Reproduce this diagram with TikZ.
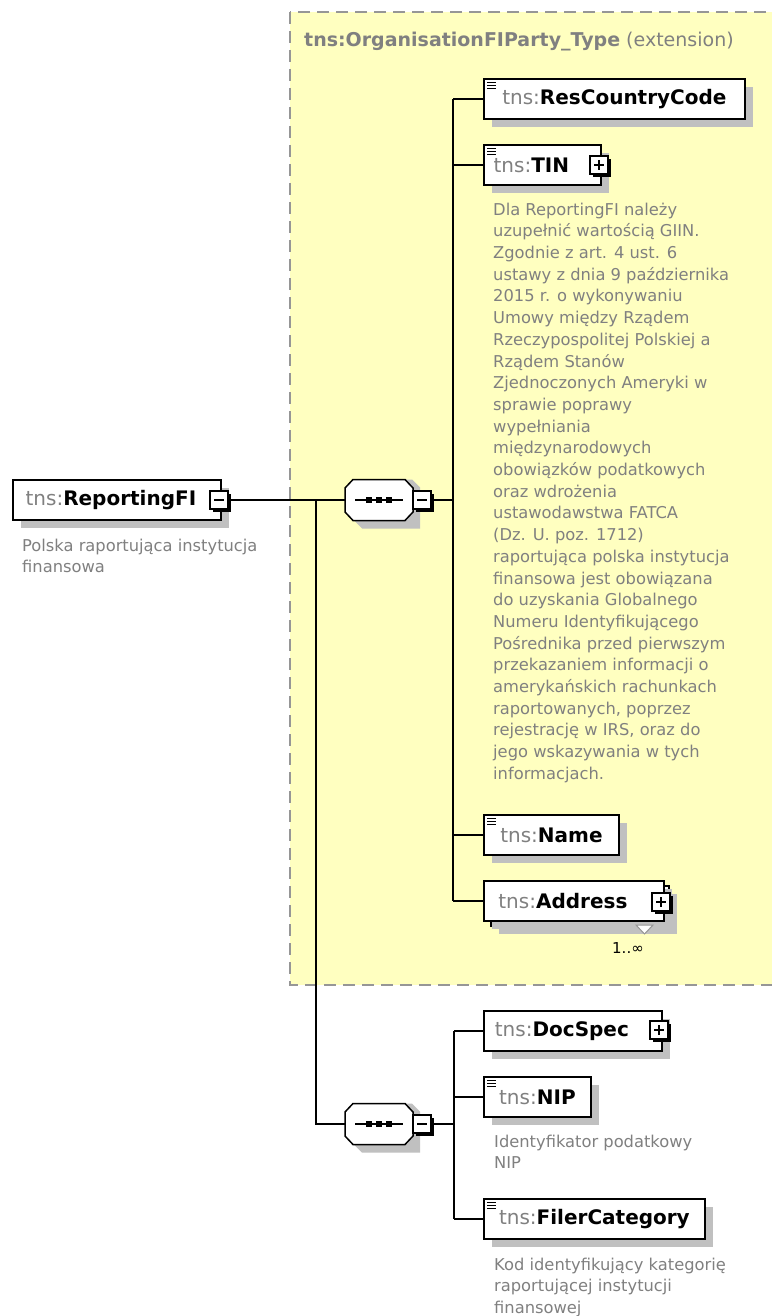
\documentclass[tikz,border=0pt]{standalone}
\usepackage{fontspec}
\setmainfont{DejaVu Sans}
\usetikzlibrary{shadows}
\definecolor{bgyellow}{RGB}{255,255,192}
\definecolor{tgray}{RGB}{128,128,128}
\definecolor{docgray}{RGB}{128,128,128}
\definecolor{shgray}{RGB}{192,192,192}
\definecolor{dashgray}{RGB}{150,150,150}
\newcommand\elname[1]{{\mdseries\color{tgray}tns:}{\bfseries #1}}
\tikzset{
  elem/.style={draw=black, fill=white, line width=1.8pt, anchor=north west,
    minimum height=40pt, minimum width=#1, inner sep=0pt,
    font=\fontsize{20}{24}\selectfont,
    drop shadow={shadow xshift=8pt, shadow yshift=-8pt, fill=shgray, opacity=1}},
  docnote/.style={anchor=north west, inner sep=0pt, align=left, text=docgray,
    font=\fontsize{16.3}{21.7}\selectfont},
  seqbox/.style={rectangle, draw=none, minimum width=68pt, minimum height=41pt, inner sep=0pt},
  conn/.style={line width=1.8pt, black},
  pics/pmbox/.style={code={
    \fill[black] (3,3) rectangle (21,21);
    \draw[fill=white, line width=1.2pt] (0,0) rectangle (18,18);
    \draw[line width=1.5pt] (4,9) -- (14,9);
    \ifnum#1=1 \draw[line width=1.5pt] (9,4) -- (9,14);\fi
    \coordinate (-in) at (0,9);
    \coordinate (-out) at (21,9);
  }},
  pics/txticon/.style={code={
    \draw[line width=0.8pt] (4,4) -- (13,4) (4,7) -- (13,7) (4,10) -- (13,10);
  }},
  pics/seqshape/.style={code={
    \fill[shgray] (-25,-12.5) -- (-17,-20.5) -- (33,-20.5) -- (41,-12.5) -- (41,20.5+8)
      -- (33,28.5) -- (-17,28.5) -- (-25,20.5) -- cycle;
    \draw[line width=1.5pt, fill=white] (-34,-12) -- (-26,-20.5) -- (26,-20.5) -- (34,-12)
      -- (34,12) -- (26,20.5) -- (-26,20.5) -- (-34,12) -- cycle;
    \draw[line width=1.5pt] (-24,0) -- (24,0);
    \fill (-13,-3) rectangle (-7,3);
    \fill (-3,-3) rectangle (3,3);
    \fill (7,-3) rectangle (13,3);
  }},
}
\begin{document}
\begin{tikzpicture}[x=1pt,y=-1pt]
\useasboundingbox (0,0) rectangle (771,1316);
\fill[white] (0,0) rectangle (771,1316);

% extension area
\draw[dashgray, line width=2pt, dash pattern=on 12pt off 7pt, fill=bgyellow] (290,12) rectangle (790,985);
\node[anchor=base west, inner sep=0pt, text=tgray, font=\fontsize{19}{23}\selectfont] (title) at (304,47)
  {{\bfseries tns:OrganisationFIParty\_Type} (extension)};

% root element
\node[elem=208pt] (rfi) at (12,479) {\elname{ReportingFI}\hspace*{12pt}};
\pic (rfim) at (210,491) {pmbox=0};
\node[docnote] (rfidoc) at (22,538.6) {Polska raportująca instytucja\\finansowa};

% sequence 1
\node[seqbox] (s1) at (379,500) {};
\pic at (s1.center) {seqshape};
\pic (s1m) at (413,491) {pmbox=0};

% sequence 2
\node[seqbox] (s2) at (379,1124) {};
\pic at (s2.center) {seqshape};
\pic (s2m) at (413,1115) {pmbox=0};

% children of sequence 1
\node[elem=261pt] (rcc) at (483,78) {\elname{ResCountryCode}};
\pic at (483,78) {txticon};
\node[elem=117pt] (tin) at (483,144) {\elname{TIN}\hspace*{22pt}};
\pic at (483,144) {txticon};
\pic (tinp) at (590,156) {pmbox=1};
\node[docnote] (tindoc) at (493,202.6) {Dla ReportingFI należy\\uzupełnić wartością GIIN.\\Zgodnie z art. 4 ust. 6\\ustawy z dnia 9 października\\2015 r. o wykonywaniu\\Umowy między Rządem\\Rzeczypospolitej Polskiej a\\Rządem Stanów\\Zjednoczonych Ameryki w\\sprawie poprawy\\wypełniania\\międzynarodowych\\obowiązków podatkowych\\oraz wdrożenia\\ustawodawstwa FATCA\\(Dz. U. poz. 1712)\\raportująca polska instytucja\\finansowa jest obowiązana\\do uzyskania Globalnego\\Numeru Identyfikującego\\Pośrednika przed pierwszym\\przekazaniem informacji o\\amerykańskich rachunkach\\raportowanych, poprzez\\rejestrację w IRS, oraz do\\jego wskazywania w tych\\informacjach.};
\node[elem=135pt] (name) at (483,814) {\elname{Name}};
\pic at (483,814) {txticon};
% Address (stacked)
\node[elem=178pt] (addrback) at (490,885) {};
\node[elem=180pt, drop shadow={opacity=0}] (addr) at (483,880) {\elname{Address}\hspace*{22pt}};
\pic (addrp) at (652,893) {pmbox=1};
\draw[dashgray, line width=1pt, fill=white] (636,925) -- (653,925) -- (644.5,934) -- cycle;
\node[anchor=base west, inner sep=0pt, font=\fontsize{15}{18}\selectfont] (mult) at (612,953) {1..∞};

% children of sequence 2
\node[elem=178pt] (docspec) at (483,1010) {\elname{DocSpec}\hspace*{22pt}};
\pic (docp) at (650,1021) {pmbox=1};
\node[elem=107pt] (nip) at (483,1076) {\elname{NIP}};
\pic at (483,1076) {txticon};
\node[docnote] (nipdoc) at (494,1134.6) {Identyfikator podatkowy\\NIP};
\node[elem=221pt] (filer) at (483,1198) {\elname{FilerCategory}};
\pic at (483,1198) {txticon};
\node[docnote] (filerdoc) at (494,1257.6) {Kod identyfikujący kategorię\\raportującej instytucji\\finansowej};

% connectors
\coordinate (j0) at (316,500);
\coordinate (j1) at (453,500);
\coordinate (j2) at (454,1124);
\draw[conn] (rfim-out) -- (s1.west);
\draw[conn] (j0) -- (j0 |- s2.west) -- (s2.west);
\draw[conn] (s1m-out) -- (j1);
\draw[conn] (j1 |- rcc.west) -- (j1 |- addr.west);
\draw[conn] (j1 |- rcc.west) -- (rcc.west);
\draw[conn] (j1 |- tin.west) -- (tin.west);
\draw[conn] (j1 |- name.west) -- (name.west);
\draw[conn] (j1 |- addr.west) -- (addr.west);
\draw[conn] (s2m-out) -- (j2);
\draw[conn] (j2 |- docspec.west) -- (j2 |- filer.west);
\draw[conn] (j2 |- docspec.west) -- (docspec.west);
\draw[conn] (j2 |- nip.west) -- (nip.west);
\draw[conn] (j2 |- filer.west) -- (filer.west);
\end{tikzpicture}
\end{document}
